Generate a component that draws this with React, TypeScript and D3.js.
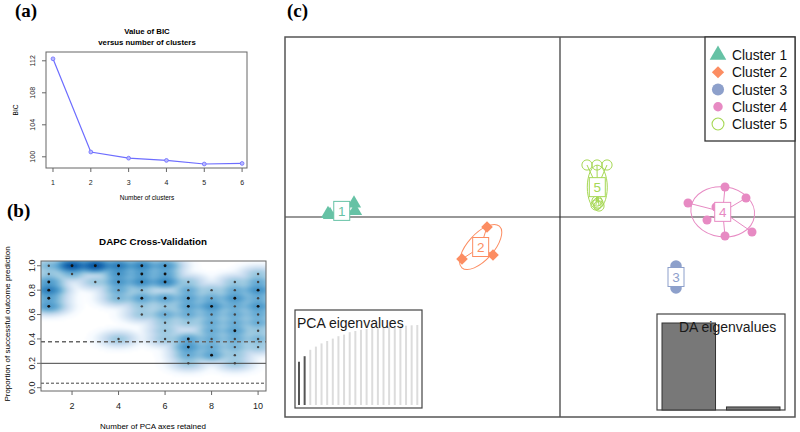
import React, { useEffect, useRef } from 'react';
import * as d3 from 'd3';

// (a) BIC versus number of clusters
const bicK = [1, 2, 3, 4, 5, 6];
const bicValues = [112.25, 100.6, 99.83, 99.55, 99.1, 99.17];
const bicYTicks = [100, 104, 108, 112];

// (b) cross-validation: [PCA axes retained, proportion of success, replicate count]
const xvalPoints: [number, number, number][] = [
  [1, 1.0, 2], [1, 0.933, 1], [1, 0.867, 5], [1, 0.8, 12], [1, 0.733, 4], [1, 0.667, 6],
  [2, 1.0, 28], [2, 0.933, 2],
  [3, 1.0, 29], [3, 0.867, 1],
  [4, 1.0, 12], [4, 0.933, 6], [4, 0.867, 6], [4, 0.8, 3], [4, 0.733, 2], [4, 0.4, 1],
  [5, 1.0, 10], [5, 0.933, 5], [5, 0.867, 8], [5, 0.8, 1], [5, 0.733, 4], [5, 0.667, 1], [5, 0.6, 1],
  [6, 1.0, 6], [6, 0.933, 4], [6, 0.867, 9], [6, 0.733, 4], [6, 0.667, 1], [6, 0.6, 3], [6, 0.533, 1], [6, 0.467, 1], [6, 0.4, 1],
  [7, 0.867, 1], [7, 0.8, 3], [7, 0.733, 4], [7, 0.667, 4], [7, 0.6, 3], [7, 0.533, 1], [7, 0.4, 4], [7, 0.333, 6], [7, 0.267, 3], [7, 0.2, 1],
  [8, 0.8, 1], [8, 0.733, 3], [8, 0.667, 7], [8, 0.6, 3], [8, 0.533, 3], [8, 0.467, 3], [8, 0.4, 3], [8, 0.333, 3], [8, 0.267, 4],
  [9, 0.867, 1], [9, 0.8, 3], [9, 0.733, 6], [9, 0.667, 3], [9, 0.6, 3], [9, 0.533, 3], [9, 0.467, 4], [9, 0.4, 3], [9, 0.333, 2], [9, 0.267, 1], [9, 0.2, 1],
  [10, 0.933, 1], [10, 0.867, 3], [10, 0.8, 7], [10, 0.733, 3], [10, 0.667, 6], [10, 0.6, 3], [10, 0.533, 3], [10, 0.467, 1], [10, 0.4, 2], [10, 0.333, 1],
];
const xvalXTicks = [2, 4, 6, 8, 10];
const xvalYTicks = [0, 0.2, 0.4, 0.6, 0.8, 1.0];
const randomUpper = 0.377;
const expectedRandom = 0.2;
const randomLower = 0.037;
const blues9 = ['#F7FBFF', '#DEEBF7', '#C6DBEF', '#9ECAE1', '#6BAED6', '#4292C6', '#2171B5', '#08519C', '#08306B'];

// (c) DAPC scatter, discriminant functions 1 and 2
const clusterNames = ['Cluster 1', 'Cluster 2', 'Cluster 3', 'Cluster 4', 'Cluster 5'];
const clusterColors = ['#66C2A5', '#FC8D62', '#8DA0CB', '#E78AC3', '#A6D854'];
const clusterPoints: [number, number][][] = [
  [[-23.2, 0.3], [-23.0, 0.2], [-20.6, 1.35], [-20.5, 0.6]],
  [[-7.3, -1.0], [-9.8, -4.2], [-6.7, -3.8]],
  [[11.6, -4.9], [11.6, -5.3], [11.6, -6.7], [11.6, -7.1]],
  [[12.8, 1.4], [16.5, 3.0], [18.6, 1.9], [19.2, -1.5], [16.5, -1.9], [14.7, -0.3], [15.6, 1.0]],
  [[2.7, 5.2], [3.7, 5.2], [4.7, 5.2], [3.8, 1.4], [3.6, 1.2], [3.9, 1.1], [3.7, 1.6]],
];
// inertia ellipses: [semi-axis 1, semi-axis 2, angle in degrees]
const clusterEllipses: ([number, number, number] | null)[] = [
  null,
  [2.8, 1.3, 48],
  null,
  [3.2, 2.5, -8],
  [1.0, 2.2, 0],
];
const pcaEigenCum = [0.54, 0.61, 0.69, 0.73, 0.77, 0.8, 0.83, 0.86, 0.88, 0.91, 0.925, 0.94, 0.95, 0.96, 0.967, 0.975, 0.98, 0.983, 0.988, 0.992, 0.996, 1.0];
const pcaRetained = 2;
const daEigen = [1.0, 0.035];

const sans = 'Liberation Sans, Arial, sans-serif';
const serif = 'Liberation Serif, Times New Roman, serif';

const App: React.FC = () => {
  const svgRef = useRef<SVGSVGElement>(null);

  useEffect(() => {
    if (!svgRef.current) return;
    const svg = d3.select(svgRef.current);
    svg.selectAll('*').remove();

    // panel letters
    const letters: [string, number, number][] = [['(a)', 15, 17], ['(b)', 7, 217], ['(c)', 287, 17]];
    svg.selectAll('.letter').data(letters).enter().append('text')
      .attr('x', (d) => d[1]).attr('y', (d) => d[2])
      .style('font-family', serif).style('font-weight', '700').style('font-size', '19px')
      .text((d) => d[0]);

    // ---------- (a)
    const a = { left: 46, right: 247, top: 52, bottom: 168 };
    const xA = d3.scaleLinear().domain([0.815, 6.13]).range([a.left, a.right]);
    const yA = d3.scaleLinear().domain([98.6, 113.1]).range([a.bottom, a.top]);
    const gA = svg.append('g');

    gA.append('text').attr('x', 147).attr('y', 34).attr('text-anchor', 'middle')
      .style('font-family', sans).style('font-weight', '700').style('font-size', '7.8px').text('Value of BIC');
    gA.append('text').attr('x', 147).attr('y', 45).attr('text-anchor', 'middle')
      .style('font-family', sans).style('font-weight', '700').style('font-size', '7.8px').text('versus number of clusters');

    gA.append('path')
      .datum(bicK.map((k, i) => [k, bicValues[i]] as [number, number]))
      .attr('d', d3.line<[number, number]>().x((d) => xA(d[0])).y((d) => yA(d[1])))
      .attr('fill', 'none').attr('stroke', '#6d6dff').attr('stroke-width', 1.2);
    gA.selectAll('.bicpt').data(bicK).enter().append('circle')
      .attr('cx', (d) => xA(d)).attr('cy', (d, i) => yA(bicValues[i])).attr('r', 1.9)
      .attr('fill', '#b8b8ff').attr('stroke', '#6d6dff').attr('stroke-width', 0.8);

    gA.append('rect').attr('x', a.left).attr('y', a.top)
      .attr('width', a.right - a.left).attr('height', a.bottom - a.top)
      .attr('fill', 'none').attr('stroke', '#666').attr('stroke-width', 1);

    gA.selectAll('.xt').data(bicK).enter().append('line')
      .attr('x1', (d) => xA(d)).attr('x2', (d) => xA(d)).attr('y1', a.bottom).attr('y2', a.bottom + 4)
      .attr('stroke', '#666');
    gA.selectAll('.xl').data(bicK).enter().append('text')
      .attr('x', (d) => xA(d)).attr('y', 184.5).attr('text-anchor', 'middle')
      .style('font-family', sans).style('font-size', '7px').style('fill', '#222').text((d) => d);
    gA.selectAll('.yt').data(bicYTicks).enter().append('line')
      .attr('x1', a.left - 4).attr('x2', a.left).attr('y1', (d) => yA(d)).attr('y2', (d) => yA(d))
      .attr('stroke', '#666');
    gA.selectAll('.yl').data(bicYTicks).enter().append('text')
      .attr('transform', (d) => `translate(35,${yA(d)}) rotate(-90)`).attr('text-anchor', 'middle')
      .style('font-family', sans).style('font-size', '7px').style('fill', '#222').text((d) => d);
    gA.append('text').attr('transform', `translate(18,${(a.top + a.bottom) / 2}) rotate(-90)`)
      .attr('text-anchor', 'middle').style('font-family', sans).style('font-size', '6.5px').text('BIC');
    gA.append('text').attr('x', 147).attr('y', 200).attr('text-anchor', 'middle')
      .style('font-family', sans).style('font-size', '6.5px').text('Number of clusters');

    // ---------- (b)
    const b = { left: 41, right: 266, top: 261, bottom: 391 };
    const xB = d3.scaleLinear().domain([0.665, 10.34]).range([b.left, b.right]);
    const yB = d3.scaleLinear().domain([-0.027, 1.039]).range([b.bottom, b.top]);
    const gB = svg.append('g');

    gB.append('text').attr('x', 153).attr('y', 245).attr('text-anchor', 'middle')
      .style('font-family', sans).style('font-weight', '700').style('font-size', '9.8px').text('DAPC Cross-Validation');

    const defs = svg.append('defs');
    defs.append('clipPath').attr('id', 'clipB').append('rect')
      .attr('x', b.left).attr('y', b.top).attr('width', b.right - b.left).attr('height', b.bottom - b.top);
    defs.append('filter').attr('id', 'soft').attr('x', '-5%').attr('y', '-5%').attr('width', '110%').attr('height', '110%')
      .append('feGaussianBlur').attr('stdDeviation', 1);

    // smoothed density of the replicate results
    const sx = 7.2;
    const sy = 3.1;
    const cell = 2;
    const pts = xvalPoints.map((p) => ({ x: xB(p[0]), y: yB(p[1]), w: p[2] }));
    const cells: { x: number; y: number; d: number }[] = [];
    for (let py = b.top - 4; py < b.bottom + 4; py += cell) {
      for (let px = b.left - 4; px < b.right + 4; px += cell) {
        const cx = px + cell / 2;
        const cy = py + cell / 2;
        let d = 0;
        for (const p of pts) {
          const dx = cx - p.x;
          const dy = cy - p.y;
          if (Math.abs(dx) > 40 || Math.abs(dy) > 18) continue;
          d += p.w * Math.exp(-(dx * dx) / (2 * sx * sx) - (dy * dy) / (2 * sy * sy));
        }
        cells.push({ x: px, y: py, d });
      }
    }
    const maxD = d3.max(cells, (c) => c.d) || 1;
    const ramp = d3.piecewise(d3.interpolateRgb, ['#FFFFFF', ...blues9]);
    const dens = gB.append('g').attr('clip-path', 'url(#clipB)').append('g').attr('filter', 'url(#soft)');
    dens.selectAll('rect').data(cells.filter((c) => c.d / maxD > 1e-6)).enter().append('rect')
      .attr('x', (c) => c.x).attr('y', (c) => c.y).attr('width', cell + 0.3).attr('height', cell + 0.3)
      .attr('fill', (c) => ramp(Math.min(1, 0.88 * Math.pow(c.d / maxD, 0.2))));

    const refLines: [number, string, string, number][] = [
      [randomUpper, '#666', '4,3', 1.3],
      [expectedRandom, '#444', '', 1],
      [randomLower, '#444', '3,2', 1],
    ];
    gB.selectAll('.ref').data(refLines).enter().append('line')
      .attr('x1', b.left).attr('x2', b.right).attr('y1', (d) => yB(d[0])).attr('y2', (d) => yB(d[0]))
      .attr('stroke', (d) => d[1]).attr('stroke-dasharray', (d) => d[2]).attr('stroke-width', (d) => d[3]);

    gB.selectAll('.dot').data(xvalPoints).enter().append('circle')
      .attr('cx', (d) => xB(d[0])).attr('cy', (d) => yB(d[1]))
      .attr('r', (d) => (d[2] >= 4 ? 1.45 : 1.2))
      .attr('fill', (d) => (d[2] >= 4 ? '#111' : '#444'));

    gB.append('rect').attr('x', b.left).attr('y', b.top)
      .attr('width', b.right - b.left).attr('height', b.bottom - b.top)
      .attr('fill', 'none').attr('stroke', '#666').attr('stroke-width', 1);

    gB.selectAll('.xt').data(xvalXTicks).enter().append('line')
      .attr('x1', (d) => xB(d)).attr('x2', (d) => xB(d)).attr('y1', b.bottom).attr('y2', b.bottom + 4)
      .attr('stroke', '#666');
    gB.selectAll('.xl').data(xvalXTicks).enter().append('text')
      .attr('x', (d) => xB(d)).attr('y', 408.5).attr('text-anchor', 'middle')
      .style('font-family', sans).style('font-size', '9px').style('fill', '#222').text((d) => d);
    gB.selectAll('.yt').data(xvalYTicks).enter().append('line')
      .attr('x1', b.left - 4).attr('x2', b.left).attr('y1', (d) => yB(d)).attr('y2', (d) => yB(d))
      .attr('stroke', '#666');
    gB.selectAll('.yl').data(xvalYTicks).enter().append('text')
      .attr('transform', (d) => `translate(35,${yB(d)}) rotate(-90)`).attr('text-anchor', 'middle')
      .style('font-family', sans).style('font-size', '9px').style('fill', '#222').text((d) => d3.format('.1f')(d));
    gB.append('text').attr('transform', `translate(10,${(b.top + b.bottom) / 2 - 2}) rotate(-90)`)
      .attr('text-anchor', 'middle').style('font-family', sans).style('font-size', '8px')
      .text('Proportion of successful outcome prediction');
    gB.append('text').attr('x', 153).attr('y', 429).attr('text-anchor', 'middle')
      .style('font-family', sans).style('font-size', '8px').text('Number of PCA axes retained');

    // ---------- (c)
    const c = { left: 285, right: 795, top: 37, bottom: 417 };
    const xC = d3.scaleLinear().domain([-27.5, 23.5]).range([c.left, c.right]);
    const yC = d3.scaleLinear().domain([-20, 18]).range([c.bottom, c.top]);
    const gC = svg.append('g');
    const unitX = xC(1) - xC(0);
    const unitY = yC(0) - yC(1);

    gC.append('line').attr('x1', c.left).attr('x2', c.right).attr('y1', yC(0)).attr('y2', yC(0))
      .attr('stroke', '#333').attr('stroke-width', 1.2);
    gC.append('line').attr('x1', xC(0)).attr('x2', xC(0)).attr('y1', c.top).attr('y2', c.bottom)
      .attr('stroke', '#333').attr('stroke-width', 1.2);

    const symbolFor = (i: number, scale: number) => {
      if (i === 0) return { d: d3.symbol(d3.symbolTriangle, 88 * scale)()!, rot: 0, fill: true };
      if (i === 1) return { d: d3.symbol(d3.symbolSquare, 68 * scale)()!, rot: 45, fill: true };
      if (i === 2) return { d: d3.symbol(d3.symbolCircle, 105 * scale)()!, rot: 0, fill: true };
      if (i === 3) return { d: d3.symbol(d3.symbolCircle, 64 * scale)()!, rot: 0, fill: true };
      return { d: d3.symbol(d3.symbolCircle, 82 * scale)()!, rot: 0, fill: false };
    };

    const centroids = clusterPoints.map((ps) => [d3.mean(ps, (p) => p[0])!, d3.mean(ps, (p) => p[1])!]);

    clusterPoints.forEach((ps, i) => {
      const col = clusterColors[i];
      const [mx, my] = centroids[i];
      const g = gC.append('g');
      const el = clusterEllipses[i];
      if (el) {
        g.append('ellipse')
          .attr('transform', `translate(${xC(mx)},${yC(my)}) rotate(${-el[2]})`)
          .attr('rx', el[0] * unitX).attr('ry', el[1] * unitY)
          .attr('fill', 'none').attr('stroke', col).attr('stroke-width', 1);
      }
      g.selectAll('.star').data(ps).enter().append('line')
        .attr('x1', xC(mx)).attr('y1', yC(my)).attr('x2', (p) => xC(p[0])).attr('y2', (p) => yC(p[1]))
        .attr('stroke', col).attr('stroke-width', 1);
      const sym = symbolFor(i, 1);
      g.selectAll('.pt').data(ps).enter().append('path')
        .attr('d', sym.d)
        .attr('transform', (p) => `translate(${xC(p[0])},${yC(p[1])}) rotate(${sym.rot})`)
        .attr('fill', sym.fill ? col : 'none').attr('stroke', sym.fill ? 'none' : col).attr('stroke-width', 1);
      g.append('rect').attr('x', xC(mx) - 8).attr('y', yC(my) - 9.5).attr('width', 16).attr('height', 19)
        .attr('fill', '#fff').attr('stroke', col).attr('stroke-width', 1);
      g.append('text').attr('x', xC(mx)).attr('y', yC(my) + 5).attr('text-anchor', 'middle')
        .style('font-family', sans).style('font-size', '13.5px').style('fill', col).text(i + 1);
    });

    // PCA eigenvalues inset
    const pIn = { left: 295, right: 422, top: 310, bottom: 408 };
    const xP = d3.scaleLinear().domain([1, pcaEigenCum.length]).range([299, 417.3]);
    const yP = d3.scaleLinear().domain([0, 1]).range([405, 325]);
    gC.append('rect').attr('x', pIn.left).attr('y', pIn.top).attr('width', pIn.right - pIn.left)
      .attr('height', pIn.bottom - pIn.top).attr('fill', '#fff').attr('stroke', '#444').attr('stroke-width', 1.2);
    gC.selectAll('.pcabar').data(pcaEigenCum).enter().append('line')
      .attr('x1', (d, i) => xP(i + 1)).attr('x2', (d, i) => xP(i + 1))
      .attr('y1', yP(0)).attr('y2', (d) => yP(d))
      .attr('stroke', (d, i) => (i < pcaRetained ? '#555' : '#dcdcdc')).attr('stroke-width', 2);
    gC.append('text').attr('x', 297).attr('y', 328).style('font-family', sans).style('font-size', '14px')
      .style('fill', '#1a1a1a').text('PCA eigenvalues');

    // DA eigenvalues inset
    const dIn = { left: 657, right: 785, top: 314, bottom: 410 };
    const xD = d3.scaleBand<number>().domain(daEigen.map((_, i) => i)).range([662, 780]).paddingInner(0.17);
    const yD = d3.scaleLinear().domain([0, 1]).range([dIn.bottom, 323]);
    gC.append('rect').attr('x', dIn.left).attr('y', dIn.top).attr('width', dIn.right - dIn.left)
      .attr('height', dIn.bottom - dIn.top).attr('fill', '#fff').attr('stroke', '#444').attr('stroke-width', 1.2);
    gC.selectAll('.dabar').data(daEigen).enter().append('rect')
      .attr('x', (d, i) => xD(i)!).attr('width', xD.bandwidth())
      .attr('y', (d) => yD(d)).attr('height', (d) => yD(0) - yD(d))
      .attr('fill', '#787878').attr('stroke', '#333').attr('stroke-width', 1);
    gC.append('text').attr('x', 679).attr('y', 332).style('font-family', sans).style('font-size', '14px')
      .style('fill', '#1a1a1a').text('DA eigenvalues');

    // frame
    gC.append('rect').attr('x', c.left).attr('y', c.top).attr('width', c.right - c.left)
      .attr('height', c.bottom - c.top).attr('fill', 'none').attr('stroke', '#555').attr('stroke-width', 1.5);

    // legend
    const lg = { left: 705, right: 795, top: 37, bottom: 141 };
    gC.append('rect').attr('x', lg.left).attr('y', lg.top).attr('width', lg.right - lg.left)
      .attr('height', lg.bottom - lg.top).attr('fill', '#fff').attr('stroke', '#333').attr('stroke-width', 1.3);
    const legendY = d3.scalePoint<string>().domain(clusterNames).range([55, 124]);
    const items = gC.selectAll('.leg').data(clusterNames).enter().append('g')
      .attr('transform', (d) => `translate(0,${legendY(d)})`);
    items.append('path')
      .attr('d', (d, i) => symbolFor(i, i === 0 ? 1.35 : i === 4 ? 1.35 : 1.1).d)
      .attr('transform', (d, i) => `translate(718,0) rotate(${symbolFor(i, 1).rot})`)
      .attr('fill', (d, i) => (i === 4 ? 'none' : clusterColors[i]))
      .attr('stroke', (d, i) => (i === 4 ? clusterColors[i] : 'none')).attr('stroke-width', 1.1);
    items.append('text').attr('x', 732).attr('y', 5)
      .style('font-family', sans).style('font-size', '13.8px').style('fill', '#111').text((d) => d);
  }, []);

  return (
    <svg
      ref={svgRef}
      width={800}
      height={432}
      style={{ position: 'absolute', left: 0, top: 0, background: '#fff' }}
    />
  );
};

export default App;
